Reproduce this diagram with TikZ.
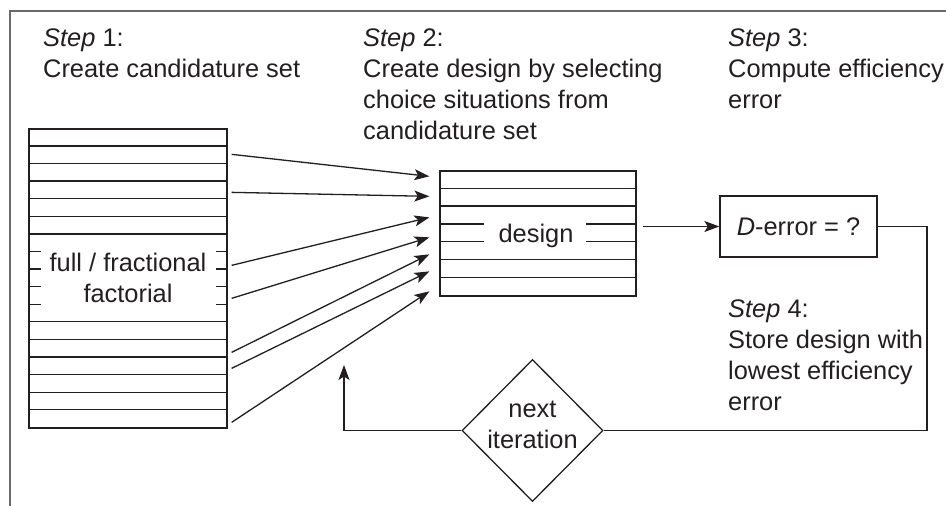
\documentclass[tikz,border=0pt]{standalone}
\usepackage{fontspec}
\setmainfont{Liberation Sans}
\usetikzlibrary{shapes.geometric,arrows.meta,calc}
\definecolor{ink}{HTML}{231F20}
\definecolor{framegray}{HTML}{6A6A6A}
\begin{document}
\begin{tikzpicture}[x=1pt,y=-1pt,
  txt/.style={inner sep=0pt, text=ink, font=\fontsize{25.4}{31}\selectfont, align=left, anchor=base west},
  ctxt/.style={inner sep=0pt, text=ink, font=\fontsize{25.4}{31}\selectfont, align=center, anchor=base},
  tbl/.style={draw=ink, line width=1.3pt, inner sep=0pt},
  ln/.style={draw=ink, line width=1.3pt},
  arr/.style={ln, -{Stealth[length=15pt,width=11pt,inset=3.5pt]}},
]
\useasboundingbox (0,0) rectangle (946,506);
\fill[white] (0,0) rectangle (946,506);
% frame
\draw[framegray, line width=2pt] (10,506) -- (10,11) -- (946,11);

% step texts (anchored at the baseline of their last line)
\node[txt] (s1) at (43,77) {\textit{Step} 1:\\Create candidature set};
\node[txt] (s2) at (363,139) {\textit{Step} 2:\\Create design by selecting\\choice situations from\\candidature set};
\node[txt] (s3) at (728,108) {\textit{Step} 3:\\Compute efficiency\\error};
\node[txt] (s4) at (728,410) {\textit{Step} 4:\\Store design with\\lowest efficiency\\error};

% candidature table
\node[tbl, minimum width=198pt, minimum height=299pt] (cand) at (128,278.5) {};
\foreach \k in {1,2,3,4,5,6,11,12,13,14,15,16}
  \draw[ln] ($(cand.north west)+(0,{17.59*\k})$) -- ++(198,0);
\foreach \k in {7,8,9,10}{
  \draw[ln] ($(cand.north west)+(0,{17.59*\k})$) -- ++(13,0);
  \draw[ln] ($(cand.north east)+(0,{17.59*\k})$) -- ++(-12,0);
}
\node[ctxt] (candlabel) at (128,302) {full / fractional\\factorial};

% design table
\node[tbl, minimum width=196pt, minimum height=125pt] (des) at (538,233.5) {};
\foreach \k in {1,2,5,6}
  \draw[ln] ($(des.north west)+(0,{17.857*\k})$) -- ++(196,0);
\foreach \k in {3,4}{
  \draw[ln] ($(des.north west)+(0,{17.857*\k})$) -- ++(45,0);
  \draw[ln] ($(des.north east)+(0,{17.857*\k})$) -- ++(-51,0);
}
\node[ctxt] (deslabel) at (536,242) {design};

% arrows from candidature set to design
\foreach \a/\b in {155/177, 193/197, 266/218, 299/238, 353/255, 369/272, 423/292}
  \draw[arr] ($(cand.north east)+(4,{\a-129})$) -- ($(des.north west)+(-10,{\b-171})$);

% D-error box
\node[tbl, minimum width=157pt, minimum height=61pt, text=ink, font=\fontsize{25.4}{31}\selectfont] (derr) at (798.5,226.5) {\textit{D}-error = ?};
\coordinate (dstart) at ($(des.east |- derr.west)+(6,0)$);
\draw[arr] (dstart) -- (derr.west);

% next iteration diamond
\node[diamond, aspect=1, draw=ink, line width=1.3pt, minimum width=141pt, minimum height=142pt, inner sep=0pt] (iter) at (532.5,430.5) {};
\node[ctxt] (iterlabel) at (532.5,448) {next\\iteration};

% loop back
\coordinate (rc) at (927,430.5);
\coordinate (up) at (344,365);
\draw[ln] (derr.east) -| (rc) -- (iter.east);
\draw[arr] (iter.west) -| (up);
\end{tikzpicture}
\end{document}
